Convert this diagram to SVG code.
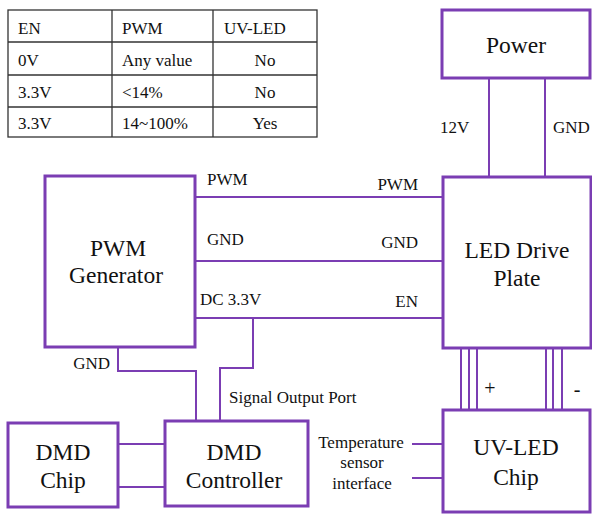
<svg xmlns="http://www.w3.org/2000/svg" width="592" height="514" viewBox="0 0 592 514" font-family="'Liberation Serif', 'Times New Roman', 'DejaVu Serif', serif">
<style>
.box{fill:#fff;stroke:#7b3db3;stroke-width:3}
.wire{fill:none;stroke:#7b3db3;stroke-width:2}
.tbl{fill:none;stroke:#333;stroke-width:1.3}
text{fill:#111}
.nt{font-size:23.5px;text-anchor:middle}
.lb{font-size:17px}
.tt{font-size:17px}
.end{text-anchor:end}
.mid{text-anchor:middle}
</style>
<rect width="592" height="514" fill="#fff"/>
<g id="table">
<rect class="tbl" x="8" y="10" width="309" height="127"/>
<line class="tbl" x1="8" y1="42" x2="317" y2="42"/>
<line class="tbl" x1="8" y1="75" x2="317" y2="75"/>
<line class="tbl" x1="8" y1="107" x2="317" y2="107"/>
<line class="tbl" x1="112" y1="10" x2="112" y2="137"/>
<line class="tbl" x1="213" y1="10" x2="213" y2="137"/>
<text class="tt" x="18" y="34">EN</text>
<text class="tt" x="122" y="34">PWM</text>
<text class="tt" x="224" y="34">UV-LED</text>
<text class="tt" x="18" y="66">0V</text>
<text class="tt" x="122" y="66">Any value</text>
<text class="tt mid" x="265" y="66">No</text>
<text class="tt" x="18" y="98">3.3V</text>
<text class="tt" x="122" y="98">&lt;14%</text>
<text class="tt mid" x="265" y="98">No</text>
<text class="tt" x="18" y="129">3.3V</text>
<text class="tt" x="122" y="129">14~100%</text>
<text class="tt mid" x="265" y="129">Yes</text>
</g>
<g id="connectors">
<line class="wire" x1="489" y1="78" x2="489" y2="177"/>
<line class="wire" x1="545" y1="78" x2="545" y2="177"/>
<line class="wire" x1="195" y1="197" x2="443" y2="197"/>
<line class="wire" x1="195" y1="261" x2="443" y2="261"/>
<line class="wire" x1="195" y1="318" x2="443" y2="318"/>
<path class="wire" d="M253 318V368H220V421"/>
<path class="wire" d="M118 347V371H196V421"/>
<line class="wire" x1="118" y1="444" x2="165" y2="444"/>
<line class="wire" x1="118" y1="487" x2="165" y2="487"/>
<line class="wire" x1="461" y1="348" x2="461" y2="410"/>
<line class="wire" x1="469" y1="348" x2="469" y2="410"/>
<line class="wire" x1="477" y1="348" x2="477" y2="410"/>
<line class="wire" x1="546" y1="348" x2="546" y2="410"/>
<line class="wire" x1="553" y1="348" x2="553" y2="410"/>
<line class="wire" x1="562" y1="348" x2="562" y2="410"/>
<line class="wire" x1="412" y1="444" x2="443" y2="444"/>
<line class="wire" x1="412" y1="478" x2="443" y2="478"/>
<text class="lb" x="440" y="133">12V</text>
<text class="lb" x="553" y="133">GND</text>
<text class="lb" x="207" y="185">PWM</text>
<text class="lb end" x="418" y="190">PWM</text>
<text class="lb" x="207" y="245">GND</text>
<text class="lb end" x="418" y="248">GND</text>
<text class="lb" x="200" y="305">DC 3.3V</text>
<text class="lb end" x="418" y="307">EN</text>
<text class="lb end" x="110" y="369">GND</text>
<text class="lb" x="229" y="403">Signal Output Port</text>
<text class="lb mid" x="490" y="395" style="font-size:20px">+</text>
<text class="lb mid" x="577" y="396" style="font-size:20px">-</text>
<text class="lb mid" x="361" y="448">Temperature</text>
<text class="lb mid" x="362" y="468">sensor</text>
<text class="lb mid" x="362" y="489">interface</text>
</g>
<g id="power">
<rect class="box" x="442" y="10" width="148" height="68"/>
<text class="nt" x="516" y="53">Power</text>
</g>
<g id="led-drive-plate">
<rect class="box" x="443" y="177" width="148" height="171"/>
<text class="nt" x="517" y="258">LED Drive</text>
<text class="nt" x="517" y="286">Plate</text>
</g>
<g id="pwm-generator">
<rect class="box" x="45" y="176" width="150" height="171"/>
<text class="nt" x="118" y="256">PWM</text>
<text class="nt" x="116" y="283">Generator</text>
</g>
<g id="dmd-chip">
<rect class="box" x="8" y="423" width="110" height="84"/>
<text class="nt" x="63" y="460">DMD</text>
<text class="nt" x="63" y="488">Chip</text>
</g>
<g id="dmd-controller">
<rect class="box" x="165" y="421" width="143" height="85"/>
<text class="nt" x="234" y="460">DMD</text>
<text class="nt" x="234" y="488">Controller</text>
</g>
<g id="uv-led-chip">
<rect class="box" x="443" y="410" width="147" height="102"/>
<text class="nt" x="516" y="455">UV-LED</text>
<text class="nt" x="516" y="485">Chip</text>
</g>
</svg>
